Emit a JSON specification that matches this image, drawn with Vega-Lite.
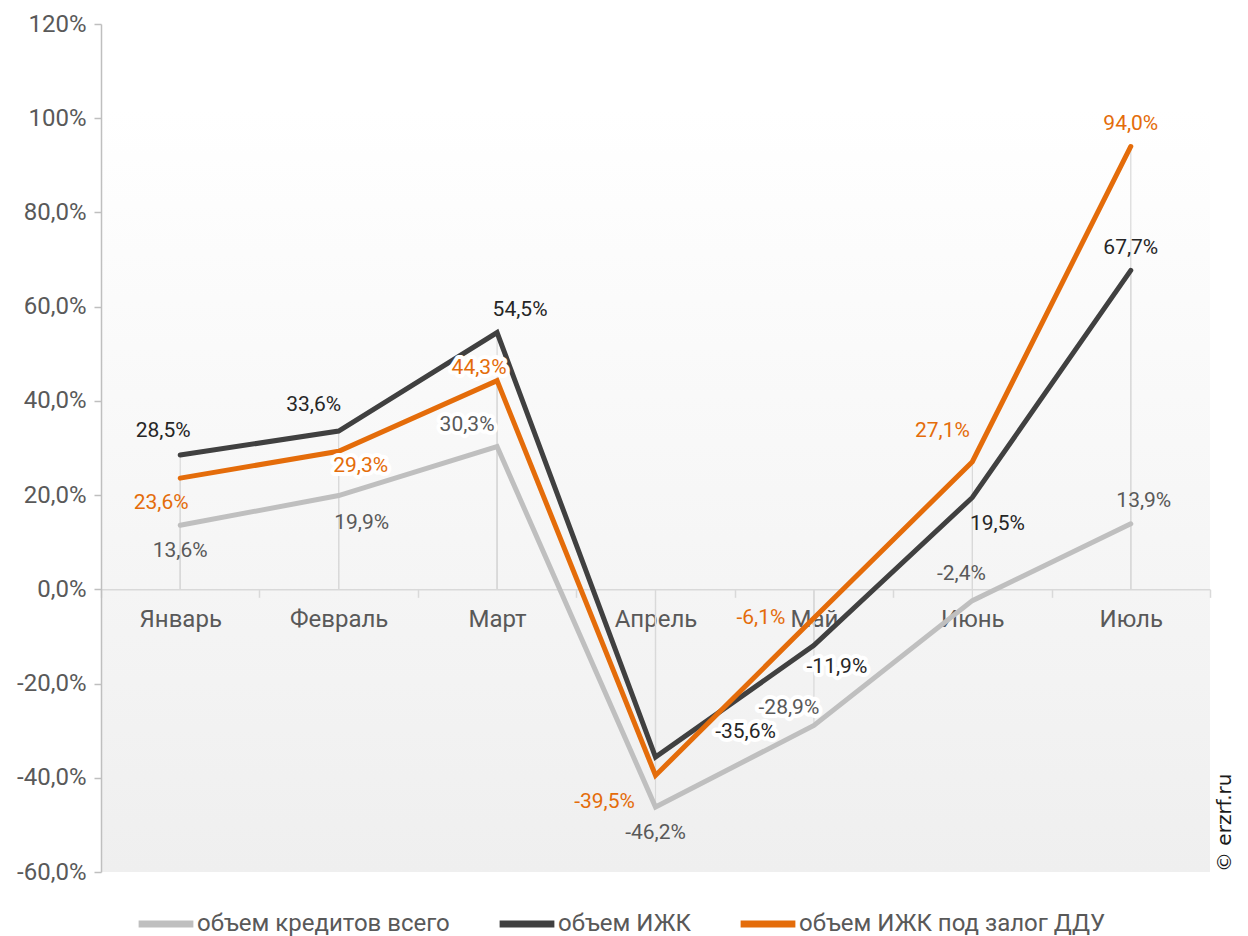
{
  "$schema": "https://vega.github.io/schema/vega-lite/v6.json",
  "width": 1109,
  "height": 848,
  "padding": {"top": 12, "left": 16, "right": 5, "bottom": 0},
  "config": {
    "font": "Roboto",
    "locale": {"number": {"decimal": ",", "thousands": " ", "grouping": [3], "currency": ["", " ₽"], "minus": "-", "percent": "%"}},
    "view": {"stroke": null, "fill": {"gradient": "linear", "x1": 0, "y1": 0, "x2": 0, "y2": 1, "stops": [{"offset": 0, "color": "#ffffff"}, {"offset": 0.1, "color": "#ffffff"}, {"offset": 1, "color": "#efefef"}]}},
    "axis": {"labelFont": "Roboto", "labelFontSize": 24, "labelColor": "#595959", "grid": false, "title": null},
    "text": {"font": "Roboto", "fontSize": 21, "baseline": "middle", "align": "center"}
  },
  "data": {"values": [
    {"m": "Январь", "k": "g", "s": "объем кредитов всего", "v": 0.136},
    {"m": "Февраль", "k": "g", "s": "объем кредитов всего", "v": 0.199},
    {"m": "Март", "k": "g", "s": "объем кредитов всего", "v": 0.303},
    {"m": "Апрель", "k": "g", "s": "объем кредитов всего", "v": -0.462},
    {"m": "Май", "k": "g", "s": "объем кредитов всего", "v": -0.289},
    {"m": "Июнь", "k": "g", "s": "объем кредитов всего", "v": -0.024},
    {"m": "Июль", "k": "g", "s": "объем кредитов всего", "v": 0.139},
    {"m": "Январь", "k": "d", "s": "объем ИЖК", "v": 0.285},
    {"m": "Февраль", "k": "d", "s": "объем ИЖК", "v": 0.336},
    {"m": "Март", "k": "d", "s": "объем ИЖК", "v": 0.545},
    {"m": "Апрель", "k": "d", "s": "объем ИЖК", "v": -0.356},
    {"m": "Май", "k": "d", "s": "объем ИЖК", "v": -0.119},
    {"m": "Июнь", "k": "d", "s": "объем ИЖК", "v": 0.195},
    {"m": "Июль", "k": "d", "s": "объем ИЖК", "v": 0.677},
    {"m": "Январь", "k": "o", "s": "объем ИЖК под залог ДДУ", "v": 0.236},
    {"m": "Февраль", "k": "o", "s": "объем ИЖК под залог ДДУ", "v": 0.293},
    {"m": "Март", "k": "o", "s": "объем ИЖК под залог ДДУ", "v": 0.443},
    {"m": "Апрель", "k": "o", "s": "объем ИЖК под залог ДДУ", "v": -0.395},
    {"m": "Май", "k": "o", "s": "объем ИЖК под залог ДДУ", "v": -0.061},
    {"m": "Июнь", "k": "o", "s": "объем ИЖК под залог ДДУ", "v": 0.271},
    {"m": "Июль", "k": "o", "s": "объем ИЖК под залог ДДУ", "v": 0.940}
  ]},
  "encoding": {
    "x": {
      "field": "m", "type": "nominal", "bandPosition": 0.5,
      "sort": ["Январь", "Февраль", "Март", "Апрель", "Май", "Июнь", "Июль"],
      "scale": {"type": "band", "paddingInner": 0, "paddingOuter": 0},
      "axis": {"title": null, "orient": "bottom", "offset": -282.67, "labelAngle": 0, "domainColor": "#d9d9d9", "domainWidth": 1.5, "tickColor": "#d9d9d9", "tickWidth": 1.5, "tickSize": 8, "tickBand": "extent", "labelPadding": 10}
    },
    "y": {
      "field": "v", "type": "quantitative",
      "scale": {"domain": [-0.6, 1.2], "nice": false, "zero": false},
      "axis": {"title": null, "values": [-0.6, -0.4, -0.2, 0, 0.2, 0.4, 0.6, 0.8, 1.0, 1.2], "labelExpr": "datum.value >= 0.99 ? replace(format(datum.value, '.0%'), '.', ',') : replace(replace(format(datum.value, '.1%'), '.', ','), '−', '-')", "domainColor": "#bfbfbf", "domainWidth": 1.5, "tickColor": "#bfbfbf", "tickWidth": 1.5, "tickSize": 7, "labelPadding": 8}
    }
  },
  "layer": [
    {"mark": {"type": "rule", "color": "#d9d9d9", "strokeWidth": 1.2}, "encoding": {"y2": {"datum": 0}}},
    {
      "mark": {"type": "line", "strokeWidth": 5, "strokeCap": "round"},
      "encoding": {
        "color": {
          "field": "s", "type": "nominal",
          "sort": ["объем кредитов всего", "объем ИЖК", "объем ИЖК под залог ДДУ"],
          "scale": {"domain": ["объем кредитов всего", "объем ИЖК", "объем ИЖК под залог ДДУ"], "range": ["#bfbfbf", "#404040", "#e46c0a"]},
          "legend": {"orient": "none", "legendX": 34, "legendY": 869, "direction": "horizontal", "title": null, "symbolType": "stroke", "symbolStrokeWidth": 7, "symbolSize": 3000, "labelFont": "Roboto", "labelFontSize": 24, "labelColor": "#595959", "labelLimit": 500, "columnPadding": 35, "labelOffset": 0}
        }
      }
    },
    {
      "encoding": {"text": {"field": "v", "type": "quantitative", "format": ".1%"}},
      "layer": [
        {"transform": [{"filter": "datum.k=='g' && datum.m=='Март'"}], "mark": {"type": "text", "dx": -30, "dy": -22, "color": "white", "stroke": "white", "strokeWidth": 8, "strokeJoin": "round"}},
        {"transform": [{"filter": "datum.k=='g' && datum.m=='Май'"}], "mark": {"type": "text", "dx": -25, "dy": -17, "color": "white", "stroke": "white", "strokeWidth": 8, "strokeJoin": "round"}},
        {"transform": [{"filter": "datum.k=='d' && datum.m=='Апрель'"}], "mark": {"type": "text", "dx": 90, "dy": -25, "color": "white", "stroke": "white", "strokeWidth": 8, "strokeJoin": "round"}},
        {"transform": [{"filter": "datum.k=='d' && datum.m=='Май'"}], "mark": {"type": "text", "dx": 23, "dy": 22, "color": "white", "stroke": "white", "strokeWidth": 8, "strokeJoin": "round"}},
        {"transform": [{"filter": "datum.k=='o' && datum.m=='Февраль'"}], "mark": {"type": "text", "dx": 22, "dy": 15, "color": "white", "stroke": "white", "strokeWidth": 8, "strokeJoin": "round"}},
        {"transform": [{"filter": "datum.k=='o' && datum.m=='Март'"}], "mark": {"type": "text", "dx": -18, "dy": -13, "color": "white", "stroke": "white", "strokeWidth": 8, "strokeJoin": "round"}},
        {"transform": [{"filter": "datum.k=='g' && datum.m=='Январь'"}], "mark": {"type": "text", "dx": 0, "dy": 26, "color": "#595959"}},
        {"transform": [{"filter": "datum.k=='g' && datum.m=='Февраль'"}], "mark": {"type": "text", "dx": 23, "dy": 27, "color": "#595959"}},
        {"transform": [{"filter": "datum.k=='g' && datum.m=='Март'"}], "mark": {"type": "text", "dx": -30, "dy": -22, "color": "#595959"}},
        {"transform": [{"filter": "datum.k=='g' && datum.m=='Апрель'"}], "mark": {"type": "text", "dx": 0, "dy": 26, "color": "#595959"}},
        {"transform": [{"filter": "datum.k=='g' && datum.m=='Май'"}], "mark": {"type": "text", "dx": -25, "dy": -17, "color": "#595959"}},
        {"transform": [{"filter": "datum.k=='g' && datum.m=='Июнь'"}], "mark": {"type": "text", "dx": -11, "dy": -27, "color": "#595959"}},
        {"transform": [{"filter": "datum.k=='g' && datum.m=='Июль'"}], "mark": {"type": "text", "dx": 13, "dy": -23, "color": "#595959"}},
        {"transform": [{"filter": "datum.k=='d' && datum.m=='Январь'"}], "mark": {"type": "text", "dx": -17, "dy": -24, "color": "#262626"}},
        {"transform": [{"filter": "datum.k=='d' && datum.m=='Февраль'"}], "mark": {"type": "text", "dx": -25, "dy": -26, "color": "#262626"}},
        {"transform": [{"filter": "datum.k=='d' && datum.m=='Март'"}], "mark": {"type": "text", "dx": 23, "dy": -23, "color": "#262626"}},
        {"transform": [{"filter": "datum.k=='d' && datum.m=='Апрель'"}], "mark": {"type": "text", "dx": 90, "dy": -25, "color": "#262626"}},
        {"transform": [{"filter": "datum.k=='d' && datum.m=='Май'"}], "mark": {"type": "text", "dx": 23, "dy": 22, "color": "#262626"}},
        {"transform": [{"filter": "datum.k=='d' && datum.m=='Июнь'"}], "mark": {"type": "text", "dx": 25, "dy": 27, "color": "#262626"}},
        {"transform": [{"filter": "datum.k=='d' && datum.m=='Июль'"}], "mark": {"type": "text", "dx": 0, "dy": -22, "color": "#262626"}},
        {"transform": [{"filter": "datum.k=='o' && datum.m=='Январь'"}], "mark": {"type": "text", "dx": -19, "dy": 25, "color": "#e46c0a"}},
        {"transform": [{"filter": "datum.k=='o' && datum.m=='Февраль'"}], "mark": {"type": "text", "dx": 22, "dy": 15, "color": "#e46c0a"}},
        {"transform": [{"filter": "datum.k=='o' && datum.m=='Март'"}], "mark": {"type": "text", "dx": -18, "dy": -13, "color": "#e46c0a"}},
        {"transform": [{"filter": "datum.k=='o' && datum.m=='Апрель'"}], "mark": {"type": "text", "dx": -51, "dy": 27, "color": "#e46c0a"}},
        {"transform": [{"filter": "datum.k=='o' && datum.m=='Май'"}], "mark": {"type": "text", "dx": -53, "dy": 0, "color": "#e46c0a"}},
        {"transform": [{"filter": "datum.k=='o' && datum.m=='Июнь'"}], "mark": {"type": "text", "dx": -30, "dy": -31, "color": "#e46c0a"}},
        {"transform": [{"filter": "datum.k=='o' && datum.m=='Июль'"}], "mark": {"type": "text", "dx": 0, "dy": -22, "color": "#e46c0a"}}
      ]
    },
    {
      "transform": [{"filter": "datum.k=='o' && datum.m=='Июль'"}],
      "mark": {"type": "text", "text": "© erzrf.ru", "angle": 270, "align": "left", "baseline": "middle", "dx": 0, "dy": 94, "fontSize": 20, "font": "DejaVu Sans", "color": "#1a1a1a"},
      "encoding": {"y": {"datum": -0.6}}
    }
  ]
}
